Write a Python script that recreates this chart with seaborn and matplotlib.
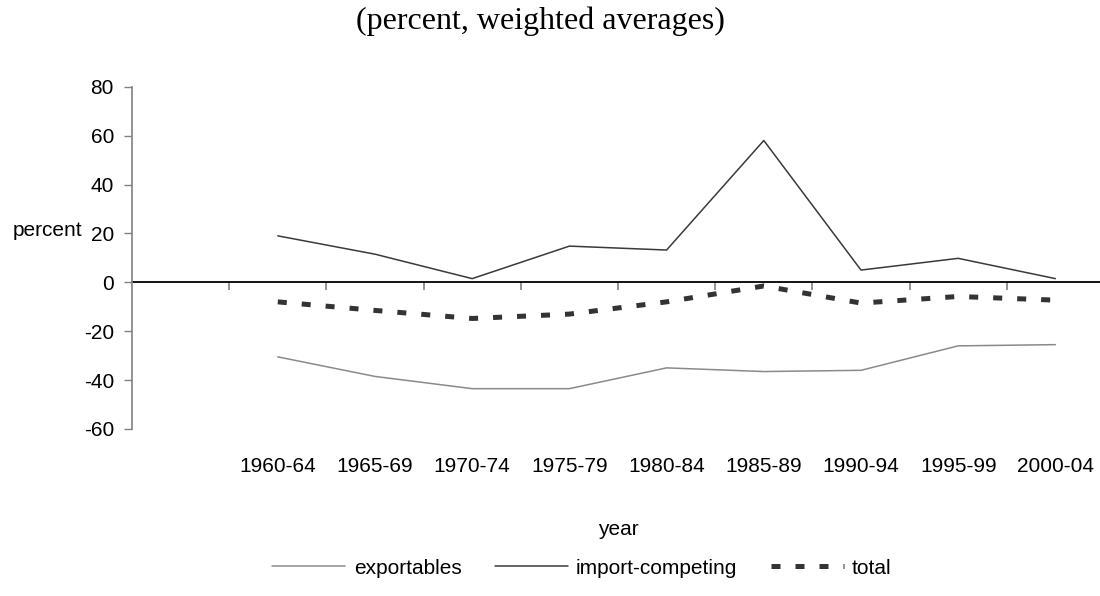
import numpy as np
import pandas as pd
import matplotlib
matplotlib.use("Agg")
import matplotlib.pyplot as plt
import seaborn as sns

years = ["1960-64", "1965-69", "1970-74", "1975-79", "1980-84",
         "1985-89", "1990-94", "1995-99", "2000-04"]
exportables = [-30.5, -38.5, -43.5, -43.5, -35.0, -36.5, -36.0, -26.0, -25.5]
import_competing = [19.0, 11.5, 1.5, 14.8, 13.2, 58.0, 5.0, 9.8, 1.5]
total = [-8.0, -11.5, -14.8, -13.0, -8.0, -1.5, -8.5, -5.8, -7.3]

sns.set_theme(style="white")
plt.rcParams["font.family"] = ["Liberation Sans", "DejaVu Sans"]
plt.rcParams["axes.unicode_minus"] = False
plt.rcParams["text.color"] = "black"
plt.rcParams["axes.labelcolor"] = "black"
plt.rcParams["xtick.color"] = "black"
plt.rcParams["ytick.color"] = "black"

FS = 15

pos = np.arange(1, len(years) + 1)
df = pd.DataFrame({"pos": pos, "exportables": exportables,
                   "import-competing": import_competing, "total": total})

fig = plt.figure(figsize=(11.0, 5.96), dpi=100)
ax = fig.add_axes([132 / 1100, 1 - 429 / 596, 972 / 1100, (429 - 86.7) / 596])

sns.lineplot(data=df, x="pos", y="exportables", ax=ax, color="#8a8a8a",
             lw=1.1, label="exportables")
sns.lineplot(data=df, x="pos", y="import-competing", ax=ax, color="#3a3a3a",
             lw=1.1, label="import-competing")
sns.lineplot(data=df, x="pos", y="total", ax=ax, color="#333333",
             lw=3.6, label="total", dashes=False)
ax.lines[-1].set_dashes((1.8, 3.0))
ax.lines[-1].set_dash_capstyle("butt")

ax.set_xlim(-0.5, len(years) + 0.5)
ax.set_ylim(-60, 80)
ax.set_yticks(np.arange(-60, 81, 20))
ax.tick_params(axis="y", which="major", direction="out", length=6, width=1,
               color="#808080", labelcolor="black", pad=7, labelsize=FS, left=True)

# category labels at the bottom, no tick marks
ax.set_xticks(pos)
ax.set_xticklabels(years)
ax.tick_params(axis="x", which="major", length=0, pad=20, labelsize=FS,
               labelcolor="black", bottom=True)

for s in ["top", "right", "bottom"]:
    ax.spines[s].set_visible(False)
ax.spines["left"].set_color("#808080")
ax.spines["left"].set_linewidth(1.2)

# axis line through zero with category boundary ticks
sec = ax.secondary_xaxis(0, transform=ax.transData)
sec.set_xticks(np.arange(0.5, len(years) + 0.5, 1.0))
sec.set_xticklabels([])
sec.tick_params(axis="x", direction="out", length=6, width=1.2, color="#808080")
sec.spines["bottom"].set_color("black")
sec.spines["bottom"].set_linewidth(1.3)

ax.set_xlabel("year", fontsize=FS, color="black")
ax.xaxis.set_label_coords(0.5, (429 - 520) / 342.3)
ax.set_ylabel("percent", fontsize=FS, rotation=0, ha="center", va="center",
              color="black")
ax.yaxis.set_label_coords((48 - 132) / 972, (429 - 230) / 342.3)

fig.text(540 / 1100, 1 - 21 / 596, "(percent, weighted averages)",
         family=["Liberation Serif", "DejaVu Serif"], fontsize=23,
         ha="center", va="center", color="black")

handles, labels = ax.get_legend_handles_labels()
if ax.get_legend() is not None:
    ax.get_legend().remove()
fig.legend(handles, labels, loc="center", bbox_to_anchor=(582 / 1100, 1 - 568 / 596),
           ncol=3, frameon=False, fontsize=FS, handlelength=3.5,
           handletextpad=0.4, columnspacing=1.6, labelcolor="black")

fig.savefig("out.png", dpi=100)
